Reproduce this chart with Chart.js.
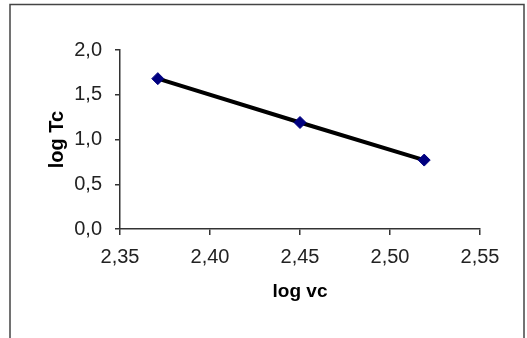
<!DOCTYPE html>
<html lang="en">
<head>
    <meta charset="UTF-8" />
    <title>log Tc vs log vc</title>
    <script src="https://cdn.jsdelivr.net/npm/chart.js"></script>
    <style>
        html, body { margin: 0; padding: 0; background: #fff; }
        #wrap { width: 527px; height: 338px; }
    </style>
</head>
<body>
    <div id="wrap"><canvas id="chart" width="527" height="338"></canvas></div>

    <script>
        // values
        const logVc = [2.371, 2.450, 2.519];
        const logTc = [1.68, 1.19, 0.77];
        const xTicks = [2.35, 2.40, 2.45, 2.50, 2.55];
        const yTicks = [0.0, 0.5, 1.0, 1.5, 2.0];

        const FONT = 'Arial, "Liberation Sans", sans-serif';

        const comma = (v, d) => Number(v).toFixed(d).replace('.', ',');

        // outer frame like the Excel chart area
        const framePlugin = {
            id: 'frame',
            beforeDraw(chart) {
                const ctx = chart.ctx;
                ctx.save();
                ctx.fillStyle = '#fff';
                ctx.fillRect(0, 0, chart.width, chart.height);
                ctx.strokeStyle = '#444';
                ctx.lineWidth = 1.5;
                ctx.strokeRect(10, 4.5, 514, 345);
                ctx.restore();
            }
        };

        new Chart(document.getElementById('chart').getContext('2d'), {
            type: 'scatter',
            data: {
                datasets: [{
                    label: 'log Tc',
                    data: logVc.map((x, i) => ({ x, y: logTc[i] })),
                    showLine: true,
                    borderColor: '#000',
                    borderWidth: 4,
                    pointStyle: 'rectRot',
                    pointRadius: 6,
                    pointBackgroundColor: '#000080',
                    pointBorderColor: '#000080',
                    pointBorderWidth: 1
                }]
            },
            options: {
                responsive: false,
                animation: false,
                layout: { padding: { left: 0, top: 50, right: 47, bottom: 0 } },
                plugins: { legend: { display: false }, tooltip: { enabled: false } },
                scales: {
                    x: {
                        type: 'linear',
                        min: xTicks[0],
                        max: xTicks[xTicks.length - 1],
                        afterBuildTicks: s => { s.ticks = xTicks.map(v => ({ value: v })); },
                        afterFit: s => { s.height = 109; },
                        grid: { drawOnChartArea: false, drawTicks: true, tickLength: 6, color: '#333', lineWidth: 1.5 },
                        border: { display: true, color: '#333', width: 1.5 },
                        ticks: {
                            color: '#222',
                            padding: 10,
                            maxRotation: 0,
                            font: { family: FONT, size: 20 },
                            callback: v => comma(v, 2)
                        },
                        title: {
                            display: true,
                            text: 'log vc',
                            color: '#000',
                            padding: { top: 0, bottom: 35 },
                            font: { family: FONT, size: 19, weight: 'bold' }
                        }
                    },
                    y: {
                        min: yTicks[0],
                        max: yTicks[yTicks.length - 1],
                        afterBuildTicks: s => { s.ticks = yTicks.map(v => ({ value: v })); },
                        afterFit: s => { s.width = 120; },
                        grid: { drawOnChartArea: false, drawTicks: true, tickLength: 5, color: '#333', lineWidth: 1.5 },
                        border: { display: true, color: '#333', width: 1.5 },
                        ticks: {
                            color: '#222',
                            padding: 13,
                            font: { family: FONT, size: 20 },
                            callback: v => comma(v, 1)
                        },
                        title: {
                            display: true,
                            text: 'log Tc',
                            color: '#000',
                            padding: { top: 45, bottom: 0 },
                            font: { family: FONT, size: 20, weight: 'bold' }
                        }
                    }
                }
            },
            plugins: [framePlugin]
        });
    </script>
</body>
</html>
